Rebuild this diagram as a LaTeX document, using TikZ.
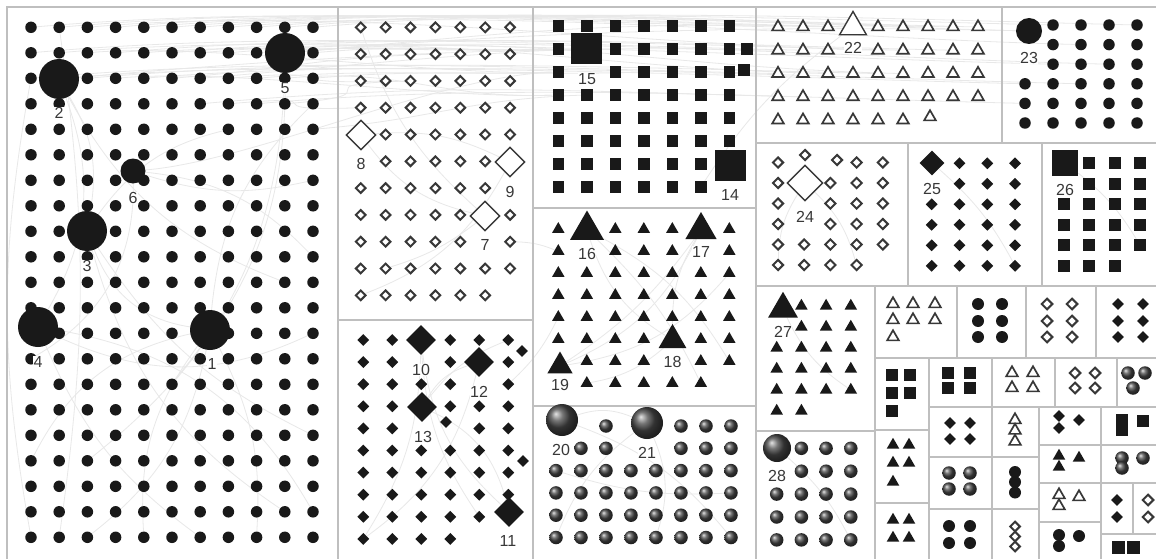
\documentclass[tikz,border=0pt]{standalone}
\usepackage{fontspec}
\newfontfamily\lblfam{Liberation Sans}
\usetikzlibrary{shapes.geometric,backgrounds}

\begin{document}
\begin{tikzpicture}[x=1pt, y=-1pt,
    frame/.style={draw=black!25, line width=1.3pt},
    edge/.style={draw=black!9, line width=0.8pt},
    cdot/.style={circle, fill=black!90, inner sep=0pt, minimum size=11.5pt},
    odia/.style={diamond, draw=black!78, fill=white, line width=2pt, inner sep=0pt, minimum size=10.5pt},
    fdia/.style={diamond, fill=black!90, inner sep=0pt, minimum size=12pt},
    sq/.style={rectangle, fill=black!90, inner sep=0pt, minimum size=11.5pt},
    ftri/.style={regular polygon, regular polygon sides=3, fill=black!90, inner sep=0pt, minimum size=14.5pt},
    otri/.style={regular polygon, regular polygon sides=3, draw=black!78, fill=white, line width=1.7pt, inner sep=0pt, minimum size=13.5pt},
    ball/.style={circle, ball color=black!72, inner sep=0pt, minimum size=13.5pt},
    lbl/.style={font=\lblfam\fontsize{16}{18}\selectfont, text=black!78, fill=white, inner sep=0.5pt}
]
\useasboundingbox (0,0) rectangle (1156,559);

% Box borders
\draw[frame] (7,559) -- (7,7) -- (1156,7);
\draw[frame] (338,7) -- (338,559);
\draw[frame] (338,320) -- (533,320);
\draw[frame] (533,7) -- (533,559);
\draw[frame] (533,208) -- (756,208);
\draw[frame] (533,406) -- (756,406);
\draw[frame] (756,7) -- (756,559);
\draw[frame] (756,143) -- (1156,143);
\draw[frame] (1002,7) -- (1002,143);
\draw[frame] (908,143) -- (908,286);
\draw[frame] (1042,143) -- (1042,286);
\draw[frame] (756,286) -- (1156,286);
\draw[frame] (875,286) -- (875,559);
\draw[frame] (756,431) -- (875,431);
\draw[frame] (957,286) -- (957,358);
\draw[frame] (1026,286) -- (1026,358);
\draw[frame] (1096,286) -- (1096,358);
\draw[frame] (875,358) -- (1156,358);
\draw[frame] (929,358) -- (929,559);
\draw[frame] (875,430) -- (929,430);
\draw[frame] (875,503) -- (929,503);
\draw[frame] (992,358) -- (992,559);
\draw[frame] (929,407) -- (1156,407);
\draw[frame] (1055,358) -- (1055,407);
\draw[frame] (1117,358) -- (1117,407);
\draw[frame] (929,457) -- (1039,457);
\draw[frame] (929,509) -- (1039,509);
\draw[frame] (1039,407) -- (1039,559);
\draw[frame] (1101,407) -- (1101,559);
\draw[frame] (1039,445) -- (1156,445);
\draw[frame] (1039,483) -- (1156,483);
\draw[frame] (1039,522) -- (1101,522);
\draw[frame] (1101,534) -- (1156,534);
\draw[frame] (1133,483) -- (1133,534);

% Group 1: circles
\foreach \c in {0,...,10}
  \foreach \r in {0,...,20}
    \node[cdot] (a-\c-\r) at ({31+28.2*\c},{27.3+25.5*\r}) {};
\node[cdot, minimum size=40pt] (n1) at (210,330) {};
\node[cdot, minimum size=40pt] (n2) at (59,79) {};
\node[cdot, minimum size=40pt] (n3) at (87,231) {};
\node[cdot, minimum size=40pt] (n4) at (38,327) {};
\node[cdot, minimum size=40pt] (n5) at (285,53) {};
\node[cdot, minimum size=25pt] (n6) at (133,171) {};
\node[lbl] (t1) at (212,364) {1};
\node[lbl] (t2) at (59,113) {2};
\node[lbl] (t3) at (87,266) {3};
\node[lbl] (t4) at (38,362) {4};
\node[lbl] (t5) at (285,88) {5};
\node[lbl] (t6) at (133,198) {6};

% Group 2: open diamonds
\foreach \r/\cols in {0/{0,...,6},1/{0,...,6},2/{0,...,6},3/{0,...,6},4/{1,...,6},5/{1,...,5},6/{0,...,5},7/{0,...,4,6},8/{0,...,4,6},9/{0,...,6},10/{0,...,5}}
  \foreach \c in \cols
    \node[odia] (b-\c-\r) at ({360.7+24.9*\c},{27.3+26.8*\r}) {};
\node[odia, line width=1.4pt, minimum size=30pt] (n8) at (361,135) {};
\node[odia, line width=1.4pt, minimum size=30pt] (n9) at (510,162) {};
\node[odia, line width=1.4pt, minimum size=30pt] (n7) at (485,216) {};
\node[lbl] (t8) at (361,164) {8};
\node[lbl] (t9) at (510,192) {9};
\node[lbl] (t7) at (485,245) {7};

% Group 3: filled diamonds
\foreach \r/\cols in {0/{0,1,3,4,5},1/{0,1,3,5},2/{0,1,2,3,5},3/{0,1,3,4,5},4/{0,1,4,5},5/{0,...,5},6/{0,...,5},7/{0,...,5},8/{0,...,4},9/{0,...,3}}
  \foreach \c in \cols
    \node[fdia] (d-\c-\r) at ({363.3+29*\c},{340+22.1*\r}) {};
\node[fdia] (d-x1) at (522,351) {};
\node[fdia] (d-x2) at (446,422) {};
\node[fdia] (d-x3) at (523,461) {};
\node[fdia, minimum size=30pt] (n10) at (421,340) {};
\node[fdia, minimum size=30pt] (n12) at (479,362) {};
\node[fdia, minimum size=30pt] (n13) at (422,407) {};
\node[fdia, minimum size=30pt] (n11) at (509,512) {};
\node[lbl] (t10) at (421,370) {10};
\node[lbl] (t12) at (479,392) {12};
\node[lbl] (t13) at (423,437) {13};
\node[lbl] (t11) at (508,541) {11};

% Group 4: squares
\foreach \r/\cols in {0/{0,...,6},1/{0,2,3,4,5,6},2/{0,2,3,4,5,6},3/{0,...,6},4/{0,...,6},5/{0,...,6},6/{0,...,5},7/{0,...,5}}
  \foreach \c in \cols
    \node[sq] (e-\c-\r) at ({558.3+28.5*\c},{26+23*\r}) {};
\node[sq] (e-x1) at (747,49) {};
\node[sq] (e-x2) at (744,70) {};
\node[sq, minimum size=31pt] (n15) at (586,49) {};
\node[sq, minimum size=31pt] (n14) at (730,165) {};
\node[lbl] (t15) at (587,79) {15};
\node[lbl] (t14) at (730,195) {14};

% Group 5: filled triangles
\foreach \r/\cols in {0/{0,2,3,4,6},1/{0,2,3,4,6},2/{0,...,6},3/{0,...,6},4/{0,...,6},5/{0,1,2,3,5,6},6/{1,2,3,5,6},7/{1,...,5}}
  \foreach \c in \cols
    \node[ftri] (f-\c-\r) at ({558.3+28.5*\c},{229.3+22*\r}) {};
\node[ftri, minimum size=39pt] (n16) at (587,230) {};
\node[ftri, minimum size=36pt] (n17) at (701,230) {};
\node[ftri, minimum size=32pt] (n18) at (672.5,340) {};
\node[ftri, minimum size=29pt] (n19) at (560,366) {};
\node[lbl] (t16) at (587,254) {16};
\node[lbl] (t17) at (701,252) {17};
\node[lbl] (t18) at (672.5,362) {18};
\node[lbl] (t19) at (560,385) {19};

% Group 6: spheres
\foreach \r/\cols in {0/{2,5,6,7},1/{1,2,5,6,7},2/{0,...,7},3/{0,...,7},4/{0,...,7},5/{0,...,7}}
  \foreach \c in \cols
    \node[ball] (g-\c-\r) at ({556+25*\c},{426+22.3*\r}) {};
\node[ball, minimum size=32pt] (n20) at (562,420) {};
\node[ball, minimum size=32pt] (n21) at (647,423) {};
\node[lbl] (t20) at (561,450) {20};
\node[lbl] (t21) at (647,453) {21};

% Group 7: open triangles
\foreach \r/\cols in {0/{0,1,2,4,5,6,7,8},1/{0,1,2,4,5,6,7,8},2/{0,...,8},3/{0,...,8},4/{0,...,5}}
  \foreach \c in \cols
    \node[otri] (h-\c-\r) at ({778+25*\c},{27+23.3*\r}) {};
\node[otri] (h-x) at (930,117) {};
\node[otri, line width=1.4pt, minimum size=31pt] (n22) at (853,27) {};
\node[lbl] (t22) at (853,48) {22};

% Group 8: circles
\foreach \r/\cols in {0/{1,...,4},1/{1,...,4},2/{1,...,4},3/{0,...,4},4/{0,...,4},5/{0,...,4}}
  \foreach \c in \cols
    \node[cdot] (i-\c-\r) at ({1025+28*\c},{25+19.6*\r}) {};
\node[cdot, minimum size=26pt] (n23) at (1029,31) {};
\node[lbl] (t23) at (1029,58) {23};

% Group 9: open diamonds
\foreach \r/\cols in {0/{0,3,4},1/{0,2,3,4},2/{0,2,3,4},3/{0,2,3,4},4/{0,...,4},5/{0,...,3}}
  \foreach \c in \cols
    \node[odia, minimum size=11pt] (j-\c-\r) at ({778+26.2*\c},{162.5+20.5*\r}) {};
\node[odia, minimum size=11pt] (j-x1) at (805,155) {};
\node[odia, minimum size=11pt] (j-x2) at (837,160) {};
\node[odia, line width=1.4pt, minimum size=36pt] (n24) at (805,183) {};
\node[lbl] (t24) at (805,217) {24};

% Group 10: filled diamonds
\foreach \r/\cols in {0/{1,2,3},1/{1,2,3},2/{0,...,3},3/{0,...,3},4/{0,...,3},5/{0,...,3}}
  \foreach \c in \cols
    \node[fdia] (k-\c-\r) at ({931.7+27.8*\c},{163.3+20.5*\r}) {};
\node[fdia, minimum size=25pt] (n25) at (932,163) {};
\node[lbl] (t25) at (932,189) {25};

% Group 11: squares
\foreach \r/\cols in {0/{1,2,3},1/{1,2,3},2/{0,...,3},3/{0,...,3},4/{0,...,3},5/{0,1,2}}
  \foreach \c in \cols
    \node[sq, minimum size=12pt] (l-\c-\r) at ({1063.5+25.6*\c},{163.3+20.5*\r}) {};
\node[sq, minimum size=26pt] (n26) at (1065,163) {};
\node[lbl] (t26) at (1065,190) {26};

% Group 12: filled triangles
\foreach \r/\cols in {0/{1,2,3},1/{1,2,3},2/{0,...,3},3/{0,...,3},4/{0,...,3},5/{0,1}}
  \foreach \c in \cols
    \node[ftri] (m-\c-\r) at ({776.7+24.7*\c},{306+21*\r}) {};
\node[ftri, minimum size=34.5pt] (n27) at (783,309) {};
\node[lbl] (t27) at (783,332) {27};

% Group 13: spheres
\foreach \r/\cols in {0/{1,2,3},1/{1,2,3},2/{0,...,3},3/{0,...,3},4/{0,...,3}}
  \foreach \c in \cols
    \node[ball] (q-\c-\r) at ({776.7+24.7*\c},{448.3+22.9*\r}) {};
\node[ball, minimum size=28pt] (n28) at (777,448) {};
\node[lbl] (t28) at (777,476) {28};

% Small groups
\foreach \x/\y [count=\k] in {893/304,913/304,935/304,893/320,913/320,935/320,893/337}
  \node[otri] (sA-\k) at (\x,\y) {};
\foreach \x/\y [count=\k] in {978/304,1002/304,978/321,1002/321,978/337,1002/337}
  \node[cdot, minimum size=12pt] (sB-\k) at (\x,\y) {};
\foreach \x/\y [count=\k] in {1047/304,1072/304,1047/321,1072/321,1047/337,1072/337}
  \node[odia, minimum size=11.5pt] (sC-\k) at (\x,\y) {};
\foreach \x/\y [count=\k] in {1118/304,1143/304,1118/321,1143/321,1118/337,1143/337}
  \node[fdia] (sD-\k) at (\x,\y) {};
\foreach \x/\y [count=\k] in {892/375,910/375,892/393,910/393,892/411}
  \node[sq, minimum size=12.5pt] (sE-\k) at (\x,\y) {};
\foreach \x/\y [count=\k] in {948/373,970/373,948/388,970/388}
  \node[sq, minimum size=12.5pt] (sF-\k) at (\x,\y) {};
\foreach \x/\y [count=\k] in {1012/373,1033/373,1012/388,1033/388}
  \node[otri] (sG-\k) at (\x,\y) {};
\foreach \x/\y [count=\k] in {1075/373,1095/373,1075/388,1095/388}
  \node[odia, minimum size=11.5pt] (sH-\k) at (\x,\y) {};
\foreach \x/\y [count=\k] in {1128/373,1145/373,1133/388}
  \node[ball] (sI-\k) at (\x,\y) {};
\foreach \x/\y [count=\k] in {950/423,970/423,950/439,970/439}
  \node[fdia] (sJ-\k) at (\x,\y) {};
\foreach \x/\y [count=\k] in {949/473,970/473,949/489,970/489}
  \node[ball] (sK-\k) at (\x,\y) {};
\foreach \x/\y [count=\k] in {949/526,970/526,949/543,970/543}
  \node[cdot, minimum size=12pt] (sL-\k) at (\x,\y) {};
\foreach \x/\y [count=\k] in {1015/420,1015/430.5,1015/441.5}
  \node[otri] (sM-\k) at (\x,\y) {};
\foreach \x/\y [count=\k] in {1015/472,1015/482,1015/492.5}
  \node[cdot, minimum size=12pt] (sN-\k) at (\x,\y) {};
\foreach \x/\y [count=\k] in {1015/526.5,1015/536.5,1015/546.5}
  \node[odia] (sO-\k) at (\x,\y) {};
\foreach \x/\y [count=\k] in {893/445,909/445,893/463,909/463,893/482}
  \node[ftri] (sP-\k) at (\x,\y) {};
\foreach \x/\y [count=\k] in {893/520,909/520,893/538,909/538}
  \node[ftri] (sQ-\k) at (\x,\y) {};
\foreach \x/\y [count=\k] in {1059/416,1059/428,1079/420}
  \node[fdia] (sR-\k) at (\x,\y) {};
\foreach \x/\y [count=\k] in {1059/456,1059/467,1079/458}
  \node[ftri] (sS-\k) at (\x,\y) {};
\foreach \x/\y [count=\k] in {1059/495,1059/506,1079/497}
  \node[otri] (sT-\k) at (\x,\y) {};
\foreach \x/\y [count=\k] in {1059/535,1059/546,1079/536}
  \node[cdot, minimum size=12pt] (sU-\k) at (\x,\y) {};
\foreach \x/\y [count=\k] in {1122/420,1122/430,1143/421}
  \node[sq] (sV-\k) at (\x,\y) {};
\foreach \x/\y [count=\k] in {1122/458,1122/468,1143/458}
  \node[ball] (sW-\k) at (\x,\y) {};
\foreach \x/\y [count=\k] in {1117/500,1117/517}
  \node[fdia] (sX-\k) at (\x,\y) {};
\foreach \x/\y [count=\k] in {1148/500,1148/517}
  \node[odia, minimum size=11.5pt] (sY-\k) at (\x,\y) {};
\foreach \x/\y [count=\k] in {1118/547,1133/547}
  \node[sq, minimum size=13pt] (sZ-\k) at (\x,\y) {};

% Links (behind everything)
\begin{scope}[on background layer]
\fill[white] (0,0) rectangle (1156,559);
% top band to the right
\foreach \s/\t in {a-0-0/h-0-0, a-1-0/h-2-0, a-2-0/h-4-1, a-3-0/n22, a-4-0/h-6-0,
    a-5-0/i-1-0, a-6-0/h-8-0, a-7-0/i-2-1, a-8-0/n23, a-10-0/i-4-0,
    a-0-1/h-1-1, a-1-1/i-1-2, a-3-1/h-5-1, a-5-1/h-7-1, a-7-1/i-3-2,
    n5/n22, n5/n23, n5/h-5-2, n2/h-0-1, n2/i-0-3, a-9-0/h-7-0, a-6-1/h-2-2,
    a-0-2/h-0-2, a-2-2/h-4-2, a-4-2/i-2-3, a-6-3/h-1-3, a-8-3/i-0-4}
  \draw[edge] (\s) .. controls +(250,-22) and +(-250,-6) .. (\t);
% top band into squares and diamonds
\foreach \s/\t in {a-2-1/e-0-2, a-4-1/e-0-1, a-6-2/n15, a-8-1/e-2-1, a-9-2/e-0-3,
    a-10-2/e-3-2, n6/e-0-2, a-10-4/e-1-3, a-7-3/b-0-3, a-9-3/b-2-2,
    a-8-2/e-0-2, a-5-2/b-3-1, a-10-1/e-0-1, a-3-2/e-0-3, a-7-2/b-1-2}
  \draw[edge] (\s) .. controls +(120,-10) and +(-120,4) .. (\t);
% inside group 1
\foreach \s/\t/\b in {n2/n4/25, n2/n3/20, n3/n1/-30, n4/a-10-12/-25, n1/a-2-20/20,
    n6/a-0-13/30, n3/a-9-19/-20, a-0-2/a-0-20/-10, n1/a-10-3/20, n4/a-6-20/-15,
    n6/a-10-9/20, n1/a-4-20/-20, n3/a-10-16/-15, a-1-0/a-1-20/8, n5/a-5-14/20,
    n6/a-10-6/-15, n4/a-10-19/25, n1/a-8-20/15, n2/a-9-10/-20, n5/a-2-17/25,
    n3/a-7-4/20, n1/a-0-17/-25}
  \draw[edge] (\s) to[bend left=\b] (\t);
% other groups
\foreach \s/\t/\b in {n8/n9/15, n8/n7/-20, n9/b-0-10/20, b-0-0/n7/-15, n7/b-1-9/10,
    n10/n11/-20, n13/n11/25, n12/d-0-9/20, n10/d-4-8/-15, n13/d-5-0/15,
    n16/n18/-20, n17/n19/20, n16/f-6-6/15, n17/n18/-15, n19/f-6-2/-20, n16/f-5-7/10,
    n20/g-7-5/15, n21/g-0-5/-15, n20/n21/20, g-0-2/g-7-3/-10,
    n24/j-3-5/15, n24/j-0-5/-15, n25/k-3-5/10, n26/l-3-4/10, n27/m-3-4/-15,
    n28/q-3-4/10, d-5-2/f-0-4/-10, b-6-8/f-0-1/10, e-5-7/n22/10,
    n10/d-0-9/15, n12/n13/-20, n18/f-1-7/15, n19/n17/-10, n21/g-4-5/20}
  \draw[edge] (\s) to[bend left=\b] (\t);
\end{scope}
\end{tikzpicture}
\end{document}
